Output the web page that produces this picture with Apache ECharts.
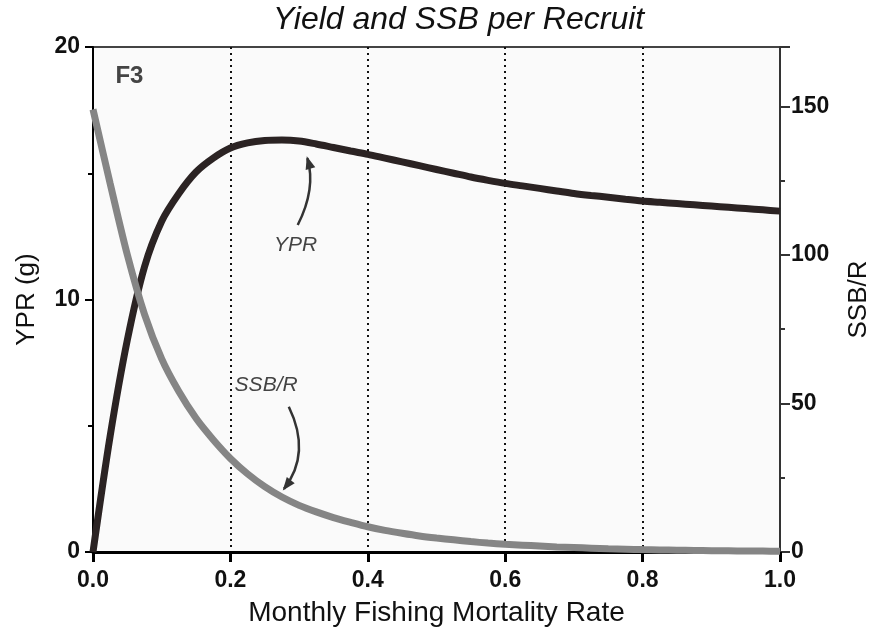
<!DOCTYPE html>
<html>
<head>
<meta charset="utf-8">
<script src="https://cdn.jsdelivr.net/npm/echarts@6/dist/echarts.min.js"></script>
<style>
  html, body { margin: 0; padding: 0; background: #fff; }
  #chart { width: 873px; height: 641px; }
</style>
</head>
<body>
<div id="chart"></div>
<script>
let d = document;

// fishing mortality (x), yield per recruit (left axis) and SSB per recruit (right axis)
let fRate = [0, 0.025, 0.05, 0.075, 0.1, 0.125, 0.15, 0.175, 0.2, 0.225, 0.25, 0.275, 0.3, 0.325, 0.35, 0.375,
  0.4, 0.425, 0.45, 0.475, 0.5, 0.525, 0.55, 0.575, 0.6, 0.625, 0.65, 0.675, 0.7, 0.725, 0.75, 0.775,
  0.8, 0.825, 0.85, 0.875, 0.9, 0.925, 0.95, 0.975, 1.0];
let ypr = [0, 4.6, 8.4, 11.3, 13.1, 14.2, 15.05, 15.6, 16.0, 16.2, 16.3, 16.32, 16.28, 16.16, 16.02, 15.88,
  15.75, 15.6, 15.45, 15.3, 15.15, 15.0, 14.85, 14.72, 14.6, 14.5, 14.4, 14.3, 14.2, 14.12, 14.05, 13.97,
  13.9, 13.85, 13.8, 13.75, 13.7, 13.65, 13.6, 13.55, 13.5];
let ssbr = [149, 124, 100, 80, 65, 54, 45, 37.8, 31.5, 26.3, 22.0, 18.5, 15.7, 13.5, 11.6, 10,
  8.5, 7.3, 6.3, 5.4, 4.7, 4.1, 3.5, 3.0, 2.6, 2.3, 2.0, 1.7, 1.5, 1.3, 1.1, 0.95,
  0.8, 0.7, 0.6, 0.52, 0.45, 0.4, 0.35, 0.3, 0.25];

let leftTicks = [0, 10, 20];
let rightTicks = [0, 50, 100, 150];

let font = "'Liberation Sans', Arial, sans-serif";

let chart = echarts.init(d.getElementById("chart"));

function pairs(ys) {
  return fRate.map((f, i) => [f, ys[i]]);
}

chart.setOption({
  animation: false,
  title: {
    text: "Yield and SSB per Recruit",
    left: 268,
    top: -1,
    textStyle: { fontFamily: font, fontStyle: "italic", fontWeight: "normal", fontSize: 32, color: "#111" }
  },
  grid: {
    left: 93, right: 93, top: 47, bottom: 89,
    outerBoundsMode: "none",
    containLabel: false,
    show: true,
    backgroundColor: "#fafafa",
    borderColor: "#444",
    borderWidth: 2
  },
  xAxis: {
    type: "value",
    min: 0, max: 1, interval: 0.2,
    name: "Monthly Fishing Mortality Rate",
    nameLocation: "middle",
    nameGap: 47,
    nameTextStyle: { fontFamily: font, fontSize: 28, color: "#111" },
    axisLine: { lineStyle: { color: "#000", width: 3 } },
    axisTick: { length: 10, lineStyle: { color: "#000", width: 3 } },
    axisLabel: {
      margin: 17,
      fontFamily: font, fontSize: 23, fontWeight: "bold", color: "#111",
      formatter: (v) => v.toFixed(1)
    },
    splitLine: { show: true, lineStyle: { color: "#111", type: [2, 4], width: 2 } }
  },
  yAxis: [
    {
      type: "value",
      min: 0, max: 20, interval: 10,
      position: "left",
      name: "YPR (g)",
      nameLocation: "middle",
      nameGap: 53,
      nameTextStyle: { fontFamily: font, fontSize: 26, color: "#111" },
      axisLine: { show: true, lineStyle: { color: "#000", width: 2 } },
      axisTick: { show: true, length: 8, lineStyle: { color: "#000", width: 2 } },
      minorTick: { show: true, splitNumber: 2, length: 5, lineStyle: { color: "#000", width: 2 } },
      axisLabel: {
        margin: 13,
        fontFamily: font, fontSize: 23, fontWeight: "bold", color: "#111",
        formatter: (v) => leftTicks.includes(v) ? String(v) : ""
      },
      splitLine: { show: false }
    },
    {
      type: "value",
      min: 0, max: 170, interval: 50,
      position: "right",
      name: "SSB/R",
      nameLocation: "middle",
      nameRotate: 90,
      nameGap: 66,
      nameTextStyle: { fontFamily: font, fontSize: 26, color: "#111" },
      axisLine: { show: true, lineStyle: { color: "#333", width: 2 } },
      axisTick: { show: true, length: 10, lineStyle: { color: "#333", width: 2 } },
      minorTick: { show: true, splitNumber: 2, length: 5, lineStyle: { color: "#333", width: 2 } },
      axisLabel: {
        margin: 11,
        fontFamily: font, fontSize: 23, fontWeight: "bold", color: "#111",
        formatter: (v) => rightTicks.includes(v) ? String(v) : ""
      },
      splitLine: { show: false }
    }
  ],
  series: [
    {
      name: "YPR",
      type: "line",
      yAxisIndex: 0,
      data: pairs(ypr),
      smooth: 0.3,
      showSymbol: false,
      lineStyle: { color: "#2b2323", width: 7 }
    },
    {
      name: "SSB/R",
      type: "line",
      yAxisIndex: 1,
      data: pairs(ssbr),
      smooth: 0.3,
      showSymbol: false,
      lineStyle: { color: "#858585", width: 7 }
    }
  ]
});

// annotations placed in data units (x, YPR)
function px(p) {
  return chart.convertToPixel({ gridIndex: 0 }, p);
}

function arrow(from, ctrl, to) {
  let a = px(from), c = px(ctrl), b = px(to);
  let dx = b[0] - c[0], dy = b[1] - c[1];
  let len = Math.sqrt(dx * dx + dy * dy);
  let ux = dx / len, uy = dy / len;
  let nx = -uy, ny = ux;
  return [
    {
      type: "bezierCurve",
      shape: { x1: a[0], y1: a[1], x2: b[0], y2: b[1], cpx1: c[0], cpy1: c[1] },
      style: { stroke: "#333", lineWidth: 2.5, fill: null }
    },
    {
      type: "polygon",
      shape: {
        points: [
          [b[0] + ux * 2, b[1] + uy * 2],
          [b[0] - ux * 11 + nx * 5, b[1] - uy * 11 + ny * 5],
          [b[0] - ux * 11 - nx * 5, b[1] - uy * 11 - ny * 5]
        ]
      },
      style: { fill: "#333" }
    }
  ];
}

function label(text, p, size, weight) {
  let q = px(p);
  return {
    type: "text",
    x: q[0], y: q[1],
    style: {
      text: text,
      fontFamily: font, fontSize: size, fontStyle: weight ? "normal" : "italic",
      fontWeight: weight || "normal",
      fill: "#444",
      align: "center", verticalAlign: "middle"
    }
  };
}

let g = [];
g.push(label("F3", [0.053, 18.85], 24, "bold"));
g.push(label("YPR", [0.295, 12.15], 21));
g.push(label("SSB/R", [0.252, 6.6], 21));
g = g.concat(arrow([0.298, 12.95], [0.325, 14.4], [0.312, 15.6]));
g = g.concat(arrow([0.285, 5.75], [0.318, 3.9], [0.278, 2.5]));

chart.setOption({ graphic: g });
</script>
</body>
</html>
